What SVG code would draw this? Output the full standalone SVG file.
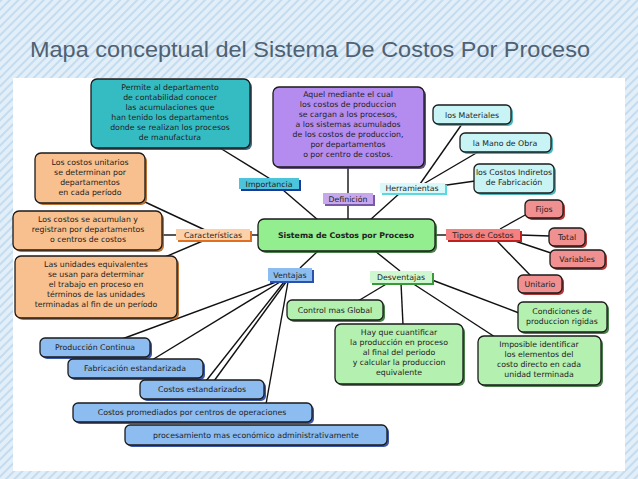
<svg xmlns="http://www.w3.org/2000/svg" width="638" height="479" viewBox="0 0 638 479">
<defs>
<pattern id="stripes" width="6" height="6" patternUnits="userSpaceOnUse" patternTransform="rotate(45)">
<rect width="6" height="6" fill="#e2eef8"/><rect width="2" height="6" fill="#c4dcef"/>
</pattern>
</defs>
<style>
.b{stroke:#1a1a1a;stroke-width:1.3}
.t{font-family:"DejaVu Sans",Verdana,sans-serif;font-size:7.8px;fill:#222;text-anchor:middle}
.l{fill:none;stroke:#111;stroke-width:1.4}
.sh{opacity:0.85}
</style>
<rect width="638" height="479" fill="url(#stripes)"/>
<rect x="13" y="78" width="612" height="393" fill="#ffffff"/>
<text x="30" y="57" font-family="Liberation Sans,Arial,sans-serif" font-size="22.5" fill="#4f6172" textLength="560" lengthAdjust="spacingAndGlyphs">Mapa conceptual del Sistema De Costos Por Proceso</text>

<g id="connectors" class="l">
<line x1="220" y1="148" x2="272" y2="180"/><line x1="283" y1="190" x2="318" y2="220"/>
<line x1="348" y1="167" x2="348" y2="194"/><line x1="348" y1="204" x2="348" y2="220"/>
<line x1="370" y1="220" x2="400" y2="193"/>
<line x1="420" y1="184" x2="462" y2="124"/><line x1="420" y1="186" x2="478" y2="152"/><line x1="440" y1="186" x2="475" y2="181"/>
<line x1="145" y1="202" x2="205" y2="230"/><line x1="162" y1="235" x2="177" y2="235"/><line x1="165" y1="257" x2="205" y2="240"/><line x1="250" y1="235" x2="259" y2="235"/>
<line x1="435" y1="235" x2="447" y2="235"/>
<line x1="500" y1="229" x2="527" y2="214"/><line x1="520" y1="235" x2="550" y2="236"/><line x1="515" y1="241" x2="551" y2="253"/><line x1="497" y1="241" x2="531" y2="276"/>
<line x1="318" y1="251" x2="300" y2="268"/><line x1="375" y1="251" x2="400" y2="271"/>
<line x1="276" y1="282" x2="122" y2="339"/><line x1="280" y1="282" x2="152" y2="360"/><line x1="284" y1="282" x2="206" y2="381"/><line x1="286" y1="282" x2="214" y2="381"/><line x1="288" y1="282" x2="266" y2="404"/>
<line x1="388" y1="283" x2="358" y2="301"/><line x1="401" y1="283" x2="403" y2="325"/><line x1="412" y1="283" x2="495" y2="337"/><line x1="432" y1="280" x2="519" y2="313"/>
</g>

<g id="n-teal"><rect x="93" y="81" width="159" height="69" rx="6" fill="#1d4e6e" class="sh"/><rect x="91" y="79" width="159" height="69" rx="6" fill="#35bcc2" class="b"/>
<text class="t"><tspan x="170" y="90">Permite al departamento</tspan><tspan x="170" y="100">de contabilidad conocer</tspan><tspan x="170" y="110">las acumulaciones que</tspan><tspan x="170" y="120">han tenido los departamentos</tspan><tspan x="170" y="130">donde se realizan los procesos</tspan><tspan x="170" y="140">de manufactura</tspan></text></g>

<g id="n-purple"><rect x="275" y="89" width="151" height="80" rx="6" fill="#443366" class="sh"/><rect x="273" y="87" width="151" height="80" rx="6" fill="#b48cf0" class="b"/>
<text class="t"><tspan x="348" y="97">Aquel mediante el cual</tspan><tspan x="348" y="107">los costos de produccion</tspan><tspan x="348" y="117">se cargan a los procesos,</tspan><tspan x="348" y="127">a los sistemas acumulados</tspan><tspan x="348" y="137">de los costos de produccion,</tspan><tspan x="348" y="147">por departamentos</tspan><tspan x="348" y="157">o por centro de costos.</tspan></text></g>

<g id="n-mat"><rect x="435" y="107" width="78" height="19" rx="5" fill="#2aa8b0" class="sh"/><rect x="433" y="105" width="78" height="19" rx="5" fill="#c8f4f6" class="b"/><text class="t" x="472" y="117.5">los Materiales</text></g>
<g id="n-mano"><rect x="462" y="135" width="91" height="19" rx="5" fill="#2aa8b0" class="sh"/><rect x="460" y="133" width="91" height="19" rx="5" fill="#c8f4f6" class="b"/><text class="t" x="505" y="145.5">la Mano de Obra</text></g>
<g id="n-cif"><rect x="476" y="166" width="80" height="29" rx="5" fill="#2aa8b0" class="sh"/><rect x="474" y="164" width="80" height="29" rx="5" fill="#c8f4f6" class="b"/><text class="t"><tspan x="514" y="175">los Costos Indiretos</tspan><tspan x="514" y="185">de Fabricación</tspan></text></g>

<g id="n-importancia"><rect x="241" y="180" width="60" height="11" fill="#1a3a9a"/><rect x="239" y="178" width="60" height="11" fill="#4cc4dc"/><text class="t" x="269" y="186.5">Importancia</text></g>
<g id="n-definicion"><rect x="325" y="195" width="50" height="11" fill="#7a5aa8"/><rect x="323" y="193" width="50" height="11" fill="#c8a8ec"/><text class="t" x="348" y="201.5">Definición</text></g>
<g id="n-herr"><rect x="382" y="185" width="65" height="10" fill="#5ad8e0"/><rect x="380" y="183" width="65" height="10" fill="#d8f8fa"/><text class="t" x="412" y="191">Herramientas</text></g>

<g id="n-central"><rect x="260" y="221" width="177" height="32" rx="6" fill="#2a6a2a" class="sh"/><rect x="258" y="219" width="177" height="32" rx="6" fill="#92ee8e" class="b"/><text class="t" x="346" y="238" font-weight="bold" font-size="8.2">Sistema de Costos por Proceso</text></g>

<g id="n-tipos"><rect x="448" y="231" width="74" height="11" fill="#c02020"/><rect x="446" y="229" width="74" height="11" fill="#f48080"/><text class="t" x="483" y="237.5">Tipos de Costos</text></g>
<g id="n-fijos"><rect x="527" y="202" width="38" height="18" rx="5" fill="#a01818" class="sh"/><rect x="525" y="200" width="38" height="18" rx="5" fill="#f09090" class="b"/><text class="t" x="544" y="212">Fijos</text></g>
<g id="n-total"><rect x="551" y="230" width="36" height="18" rx="5" fill="#a01818" class="sh"/><rect x="549" y="228" width="36" height="18" rx="5" fill="#f09090" class="b"/><text class="t" x="567" y="240">Total</text></g>
<g id="n-var"><rect x="552" y="252" width="55" height="18" rx="5" fill="#a01818" class="sh"/><rect x="550" y="250" width="55" height="18" rx="5" fill="#f09090" class="b"/><text class="t" x="577" y="262">Variables</text></g>
<g id="n-unit"><rect x="520" y="277" width="44" height="18" rx="5" fill="#a01818" class="sh"/><rect x="518" y="275" width="44" height="18" rx="5" fill="#f09090" class="b"/><text class="t" x="540" y="287">Unitario</text></g>

<g id="n-cu"><rect x="37" y="155" width="110" height="50" rx="6" fill="#b05a10" class="sh"/><rect x="35" y="153" width="110" height="50" rx="6" fill="#f8c08e" class="b"/><text class="t"><tspan x="90" y="165">Los costos unitarios</tspan><tspan x="90" y="175">se determinan por</tspan><tspan x="90" y="185">departamentos</tspan><tspan x="90" y="195">en cada período</tspan></text></g>
<g id="n-acum"><rect x="15" y="213" width="149" height="39" rx="6" fill="#b05a10" class="sh"/><rect x="13" y="211" width="149" height="39" rx="6" fill="#f8c08e" class="b"/><text class="t"><tspan x="88" y="222">Los costos se acumulan y</tspan><tspan x="88" y="232">registran por departamentos</tspan><tspan x="88" y="242">o centros de costos</tspan></text></g>
<g id="n-ue"><rect x="17" y="258" width="162" height="62" rx="6" fill="#b05a10" class="sh"/><rect x="15" y="256" width="162" height="62" rx="6" fill="#f8c08e" class="b"/><text class="t"><tspan x="96" y="267">Las unidades equivalentes</tspan><tspan x="96" y="277">se usan para determinar</tspan><tspan x="96" y="287">el trabajo en proceso en</tspan><tspan x="96" y="297">términos de las unidades</tspan><tspan x="96" y="307">terminadas al fin de un período</tspan></text></g>
<g id="n-caract"><rect x="178" y="231" width="74" height="11" fill="#e07020"/><rect x="176" y="229" width="74" height="11" fill="#fcd0a8"/><text class="t" x="213" y="237.5">Características</text></g>

<g id="n-ventajas"><rect x="270" y="270" width="44" height="13" fill="#2a50b0"/><rect x="268" y="268" width="44" height="13" fill="#8cbcf0"/><text class="t" x="290" y="277.5">Ventajas</text></g>
<g id="n-desv"><rect x="372" y="273" width="62" height="12" fill="#3a9a3a"/><rect x="370" y="271" width="62" height="12" fill="#d0f8d0"/><text class="t" x="401" y="280">Desventajas</text></g>

<g id="n-control"><rect x="289" y="302" width="96" height="20" rx="5" fill="#2a6a2a" class="sh"/><rect x="287" y="300" width="96" height="20" rx="5" fill="#b4f0b0" class="b"/><text class="t" x="335" y="313">Control mas Global</text></g>
<g id="n-hay"><rect x="337" y="326" width="128" height="60" rx="6" fill="#2a6a2a" class="sh"/><rect x="335" y="324" width="128" height="60" rx="6" fill="#b4f0b0" class="b"/><text class="t"><tspan x="399" y="335">Hay que cuantificar</tspan><tspan x="399" y="345">la producción en proceso</tspan><tspan x="399" y="355">al final del periodo</tspan><tspan x="399" y="365">y calcular la produccion</tspan><tspan x="399" y="375">equivalente</tspan></text></g>
<g id="n-impos"><rect x="480" y="338" width="123" height="49" rx="6" fill="#2a6a2a" class="sh"/><rect x="478" y="336" width="123" height="49" rx="6" fill="#b4f0b0" class="b"/><text class="t"><tspan x="539" y="347">Imposible identificar</tspan><tspan x="539" y="357">los elementos del</tspan><tspan x="539" y="367">costo directo en cada</tspan><tspan x="539" y="377">unidad terminada</tspan></text></g>
<g id="n-cond"><rect x="520" y="304" width="89" height="30" rx="5" fill="#2a6a2a" class="sh"/><rect x="518" y="302" width="89" height="30" rx="5" fill="#b4f0b0" class="b"/><text class="t"><tspan x="562" y="314">Condiciones de</tspan><tspan x="562" y="324">produccion rigidas</tspan></text></g>

<g id="n-pc"><rect x="42" y="340" width="110" height="19" rx="5" fill="#1a3a9a" class="sh"/><rect x="40" y="338" width="110" height="19" rx="5" fill="#8cbcf0" class="b"/><text class="t" x="95" y="350">Producción Continua</text></g>
<g id="n-fe"><rect x="70" y="361" width="135" height="19" rx="5" fill="#1a3a9a" class="sh"/><rect x="68" y="359" width="135" height="19" rx="5" fill="#8cbcf0" class="b"/><text class="t" x="135" y="371">Fabricación estandarizada</text></g>
<g id="n-ce"><rect x="142" y="382" width="124" height="19" rx="5" fill="#1a3a9a" class="sh"/><rect x="140" y="380" width="124" height="19" rx="5" fill="#8cbcf0" class="b"/><text class="t" x="202" y="392">Costos estandarizados</text></g>
<g id="n-cp"><rect x="75" y="405" width="239" height="19" rx="5" fill="#1a3a9a" class="sh"/><rect x="73" y="403" width="239" height="19" rx="5" fill="#8cbcf0" class="b"/><text class="t" x="192" y="415">Costos promediados por centros de operaciones</text></g>
<g id="n-proc"><rect x="127" y="427" width="262" height="20" rx="5" fill="#1a3a9a" class="sh"/><rect x="125" y="425" width="262" height="20" rx="5" fill="#8cbcf0" class="b"/><text class="t" x="256" y="438">procesamiento mas económico administrativamente</text></g>
</svg>
